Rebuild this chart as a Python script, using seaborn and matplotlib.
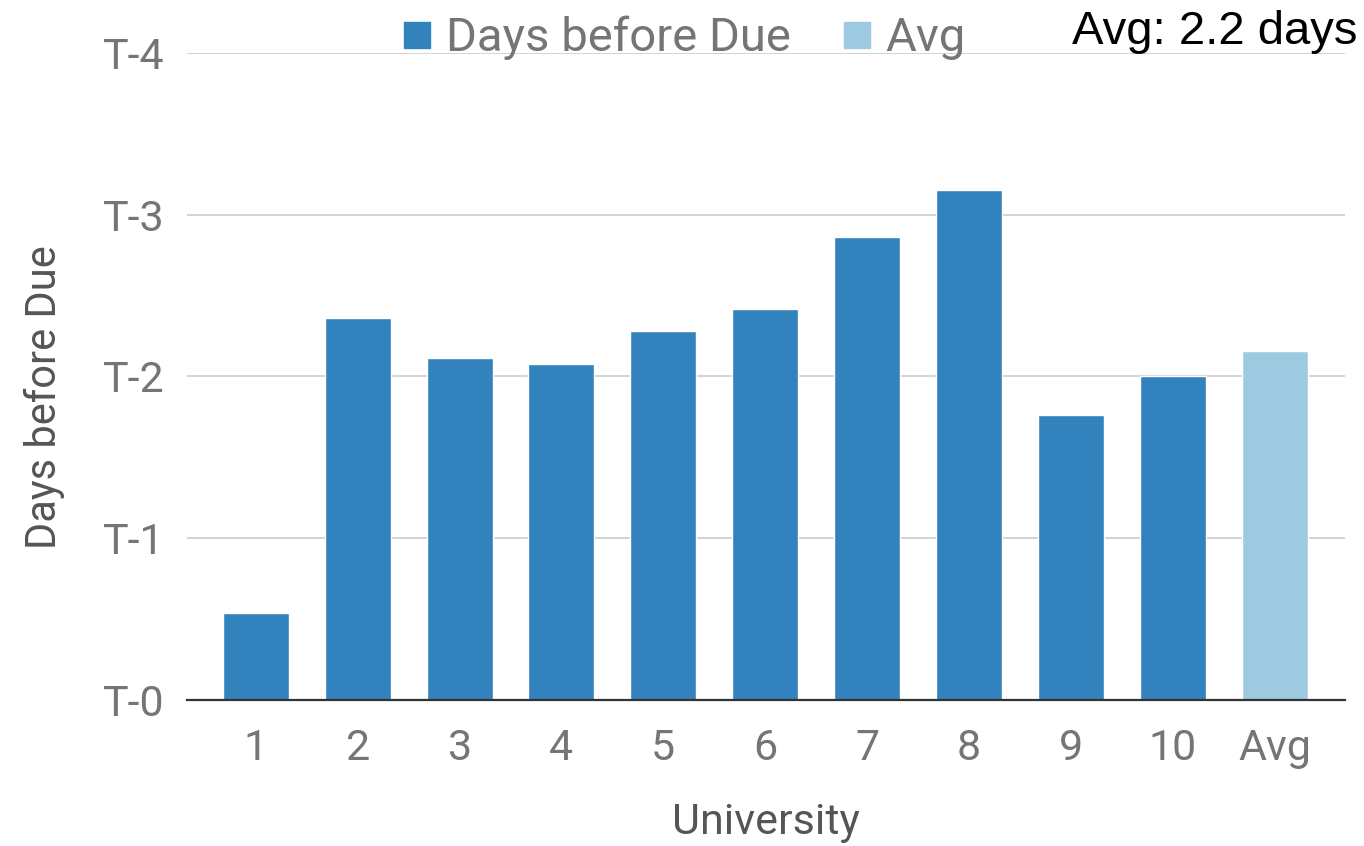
import matplotlib
matplotlib.use("Agg")
import matplotlib.pyplot as plt
from matplotlib.lines import Line2D
import seaborn as sns
import pandas as pd

universities = ["1", "2", "3", "4", "5", "6", "7", "8", "9", "10"]
days_before_due = [0.54, 2.36, 2.115, 2.08, 2.28, 2.42, 2.86, 3.15, 1.76, 2.0]
avg_label = "Avg"
avg_value = sum(days_before_due) / len(days_before_due)
y_ticks = [0, 1, 2, 3, 4]
y_tick_labels = ["T-0", "T-1", "T-2", "T-3", "T-4"]

dark_blue = "#3182bd"
light_blue = "#9ecae1"
grey_text = "#757575"

df = pd.DataFrame({
    "University": universities + [avg_label],
    "Days": days_before_due + [avg_value],
    "Series": ["Days before Due"] * len(universities) + ["Avg"],
})

sns.set_theme(style="white")
plt.rcParams["font.family"] = ["Roboto", "DejaVu Sans"]

fig = plt.figure(figsize=(13.64, 8.46), dpi=100)
ax = fig.add_axes([0.137, 0.1726, 0.849, 0.7648])

sns.barplot(data=df, x="University", y="Days", hue="Series",
            palette={"Days before Due": dark_blue, "Avg": light_blue},
            dodge=False, width=0.648, saturation=1, legend=False, ax=ax)

ax.set_xlim(-0.677, 10.69)
ax.set_ylim(0, 4)
ax.set_yticks(y_ticks)
ax.set_yticklabels(y_tick_labels)
ax.yaxis.grid(True, color="#d0d0d0", linewidth=1.3)
ax.set_axisbelow(True)
for s in ["top", "right", "left"]:
    ax.spines[s].set_visible(False)
ax.spines["bottom"].set_color("#333333")
ax.spines["bottom"].set_linewidth(1.6)
ax.spines["bottom"].set_zorder(5)
ax.tick_params(axis="both", length=0, labelsize=31, labelcolor=grey_text)
ax.tick_params(axis="x", pad=20)
ax.tick_params(axis="y", pad=16)

ax.set_xlabel("University", fontsize=31, color="#555555", labelpad=24)
ax.set_ylabel("Days before Due", fontsize=30, color="#555555")
ax.yaxis.set_label_coords(-0.105, 0.468)

handles = [
    Line2D([], [], marker="s", linestyle="none", markersize=19,
           markerfacecolor=dark_blue, markeredgecolor=dark_blue),
    Line2D([], [], marker="s", linestyle="none", markersize=19,
           markerfacecolor=light_blue, markeredgecolor=light_blue),
]
leg = fig.legend(handles, ["Days before Due", "Avg"], loc="center",
                 bbox_to_anchor=(0.5, 0.955), ncol=2, frameon=False,
                 fontsize=34, handletextpad=0.2, columnspacing=1.0,
                 handlelength=0.8)
for t in leg.get_texts():
    t.set_color(grey_text)

fig.text(0.995, 0.962, f"Avg: {avg_value:.1f} days", ha="right", va="center",
         fontsize=34, color="black", family=["Liberation Sans", "DejaVu Sans"])

fig.savefig("out.png", dpi=100)
